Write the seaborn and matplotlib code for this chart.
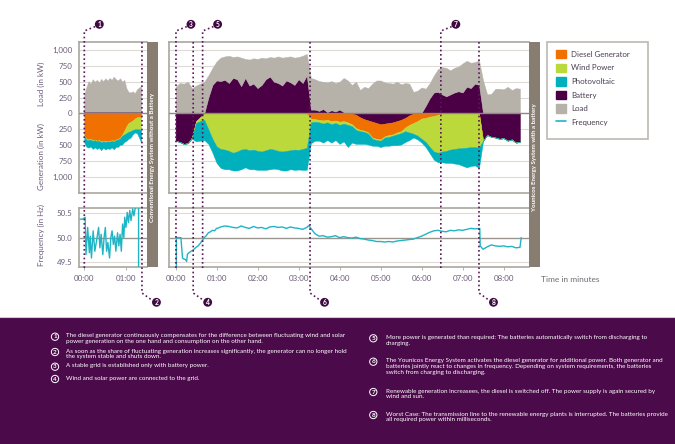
import numpy as np
import matplotlib
matplotlib.use("Agg")
import matplotlib.pyplot as plt
import seaborn as sns
from matplotlib.patches import Patch, Rectangle
from matplotlib.lines import Line2D

# ---------------- data (kW) ----------------
# left panel: conventional system, sampled every 0.05 min
minutes_left = np.round(np.arange(0, 1.36, 0.05), 2)
load_left = [300, 420, 510, 470, 540, 500, 530, 490, 545, 510, 555, 520, 560, 530,
             580, 540, 520, 555, 500, 530, 400, 340, 330, 350, 320, 380, 410, 430]
diesel_left = [350, 400, 410, 400, 420, 410, 430, 420, 440, 430, 440, 430, 435, 420,
               430, 410, 400, 380, 330, 270, 200, 150, 130, 110, 80, 60, 50, 70]
wind_left = [10, 15, 10, 10, 15, 10, 10, 10, 15, 10, 10, 10, 10, 10,
             15, 10, 10, 15, 20, 60, 110, 140, 150, 150, 170, 190, 200, 190]
pv_left = [100, 110, 120, 110, 125, 115, 120, 110, 125, 100, 120, 110, 115, 105,
           120, 110, 115, 100, 140, 120, 120, 110, 100, 70, 50, 60, 130, 200]
battery_left = [0] * 28

# right panel: Younicos system, sampled every 0.1 min (battery > 0 = charging)
minutes_right = np.round(np.arange(0, 8.45, 0.1), 2)
load_right = [420, 480, 470, 500, 400, 440, 470, 500, 350, 270,
              300, 370, 370, 430, 330, 360, 450, 300, 410, 400,
              460, 430, 330, 310, 380, 420, 440, 370, 410, 430,
              350, 430, 340, 500, 480, 470, 430, 470, 460, 450,
              440, 540, 520, 430, 500, 370, 420, 400, 470, 520,
              520, 490, 480, 470, 500, 460, 480, 470, 340, 340,
              400, 270, 240, 270, 360, 430, 450, 380, 390, 390,
              460, 410, 400, 340, 390, 520, 300, 310, 390, 390,
              380, 420, 370, 400, 390]
battery_right = [-430, -450, -480, -470, -380, -120, -60, 0, 250, 450,
                 520, 510, 530, 480, 560, 540, 430, 560, 440, 470,
                 400, 450, 540, 580, 500, 480, 440, 520, 490, 450,
                 540, 480, 600, 60, 60, 40, 70, 20, 50, 30,
                 60, 20, 0, 20, -20, -60, -90, -110, -130, -150,
                 -170, -160, -150, -140, -120, -100, -70, -30, 0, 20,
                 10, 120, 240, 330, 340, 300, 270, 300, 330, 350,
                 330, 420, 400, 470, 450, -430, -340, -370, -380, -400,
                 -390, -430, -410, -460, -450]
diesel_right = [0, 0, 0, 0, 0, 0, 0, 0, 0, 0,
                0, 0, 0, 0, 0, 0, 0, 0, 0, 0,
                0, 0, 0, 0, 0, 0, 0, 0, 0, 0,
                0, 0, 0, 80, 90, 100, 110, 100, 120, 110,
                130, 120, 140, 170, 210, 200, 180, 190, 250, 250,
                240, 200, 190, 190, 180, 180, 150, 150, 150, 120,
                80, 70, 50, 40, 20, 0, 0, 0, 0, 0,
                0, 0, 0, 0, 0, 0, 0, 0, 0, 0,
                0, 0, 0, 0, 0]
wind_right = [0, 0, 0, 0, 0, 30, 60, 100, 250, 400,
              520, 560, 570, 590, 620, 600, 570, 560, 580, 570,
              590, 600, 580, 560, 570, 590, 600, 590, 580, 570,
              575, 560, 540, 60, 40, 40, 50, 40, 50, 40,
              50, 40, 40, 30, 30, 20, 20, 20, 20, 20,
              20, 20, 30, 20, 30, 30, 60, 120, 170, 230,
              320, 380, 480, 560, 600, 600, 590, 570, 560, 550,
              545, 540, 530, 530, 540, 0, 0, 0, 0, 0,
              0, 0, 0, 0, 0]
pv_right = [0, 0, 0, 0, 20, 290, 310, 320, 230, 220,
            260, 300, 310, 290, 280, 300, 310, 290, 300, 310,
            300, 290, 310, 320, 300, 290, 300, 310, 300, 320,
            310, 330, 350, 330, 300, 290, 300, 280, 290, 270,
            300, 280, 350, 260, 220, 200, 190, 170, 110, 90,
            100, 130, 140, 150, 170, 180, 170, 120, 60, 60,
            60, 80, 100, 130, 150, 170, 190, 210, 230, 250,
            280, 310, 300, 290, 320, 0, 0, 0, 0, 0,
            0, 0, 0, 0, 0]

# frequency (Hz)
freq_left_min = [-0.1, -0.04, 0.02, 0.04, 0.08, 0.12, 0.14, 0.17, 0.21, 0.25, 0.29,
                 0.34, 0.37, 0.4, 0.44, 0.47, 0.5, 0.53, 0.56, 0.6, 0.63, 0.66,
                 0.69, 0.72, 0.75, 0.79, 0.82, 0.85, 0.88, 0.91, 0.94, 0.96, 0.99,
                 1.02, 1.05, 1.08, 1.11, 1.15, 1.18, 1.21, 1.29, 1.29]
freq_left_hz = [50.38, 50.38, 50.42, 49.65, 50.21, 49.69, 50.03, 49.58, 50.14, 49.72, 49.93,
                50.21, 49.79, 50.07, 49.65, 50.0, 50.21, 49.72, 49.9, 49.58, 50.0, 50.14,
                49.86, 50.03, 49.72, 50.1, 49.83, 50.07, 49.72, 50.28, 50.0, 50.42, 50.21,
                50.52, 50.31, 50.56, 50.35, 50.59, 50.45, 50.61, 50.65, 49.2]
freq_right_min = [0.02, 0.02, 0.13, 0.17, 0.2, 0.24, 0.27, 0.29, 0.33, 0.38, 0.42, 0.46,
                  0.5, 0.55, 0.6, 0.65, 0.7, 0.75, 0.8, 0.85, 0.9, 0.95, 1.0, 1.05,
                  1.1, 1.2, 1.3, 1.4, 1.5, 1.6, 1.7, 1.8, 1.9, 2.0, 2.1, 2.2,
                  2.3, 2.4, 2.5, 2.6, 2.7, 2.8, 2.9, 3.0, 3.1, 3.2, 3.25, 3.3,
                  3.4, 3.5, 3.6, 3.7, 3.8, 3.9, 4.0, 4.1, 4.2, 4.3, 4.4, 4.5,
                  4.6, 4.7, 4.8, 4.9, 5.0, 5.1, 5.2, 5.3, 5.4, 5.5, 5.6, 5.7,
                  5.8, 5.9, 6.0, 6.1, 6.2, 6.3, 6.4, 6.5, 6.6, 6.7, 6.8, 6.9,
                  7.0, 7.1, 7.2, 7.3, 7.42, 7.43, 7.5, 7.6, 7.7, 7.8, 7.9, 8.0,
                  8.1, 8.2, 8.3, 8.4, 8.43]
freq_right_hz = [49.2, 50.0, 50.0, 49.58, 49.56, 49.55, 49.51, 49.66, 49.69, 49.72, 49.74, 49.77,
                 49.8, 49.83, 49.88, 49.94, 50.0, 50.04, 50.1, 50.12, 50.15, 50.14, 50.19, 50.2,
                 50.22, 50.24, 50.23, 50.21, 50.2, 50.24, 50.21, 50.19, 50.23, 50.2, 50.21, 50.18,
                 50.22, 50.23, 50.21, 50.22, 50.19, 50.22, 50.2, 50.19, 50.17, 50.21, 50.25, 50.19,
                 50.08, 50.03, 50.04, 50.01, 50.02, 50.04, 50.0, 50.02, 50.0, 49.99, 50.01, 49.98,
                 49.97, 49.95, 49.94, 49.92, 49.92, 49.91, 49.92, 49.91, 49.93, 49.94, 49.95, 49.96,
                 49.97, 50.0, 50.03, 50.07, 50.11, 50.14, 50.15, 50.13, 50.12, 50.15, 50.14, 50.16,
                 50.15, 50.17, 50.19, 50.18, 50.19, 49.83, 49.76, 49.81, 49.85, 49.83, 49.82, 49.83,
                 49.81, 49.82, 49.79, 49.8, 50.0]

# event markers (minutes) and their numbers
events_left = [(0.0, 1, "top"), (1.37, 2, "bottom")]
events_right = [(0.01, 3, "top"), (0.43, 4, "bottom"), (0.66, 5, "top"),
                (3.28, 6, "bottom"), (6.47, 7, "top"), (7.40, 8, "bottom")]

power_ticks = [-1000, -750, -500, -250, 0, 250, 500, 750, 1000]
power_labels = ["1,000", "750", "500", "250", "0", "250", "500", "750", "1,000"]
freq_ticks = [49.5, 50.0, 50.5]
freq_labels = ["49.5", "50.0", "50.5"]
time_labels_left = ["00:00", "01:00"]
time_labels_right = ["00:00", "01:00", "02:00", "03:00", "04:00", "05:00", "06:00", "07:00", "08:00"]

notes_left = [
    (1, "The diesel generator continuously compensates for the difference between fluctuating wind and solar\n"
        "power generation on the one hand and consumption on the other hand."),
    (2, "As soon as the share of fluctuating generation increases significantly, the generator can no longer hold\n"
        "the system stable and shuts down."),
    (3, "A stable grid is established only with battery power."),
    (4, "Wind and solar power are connected to the grid."),
]
notes_right = [
    (5, "More power is generated than required: The batteries automatically switch from discharging to\n"
        "charging."),
    (6, "The Younicos Energy System activates the diesel generator for additional power. Both generator and\n"
        "batteries jointly react to changes in frequency. Depending on system requirements, the batteries\n"
        "switch from charging to discharging."),
    (7, "Renewable generation increasees, the diesel is switched off. The power supply is again secured by\n"
        "wind and sun."),
    (8, "Worst Case: The transmission line to the renewable energy plants is interrupted. The batteries provide\n"
        "all required power within milliseconds."),
]

# ---------------- style ----------------
C_DIESEL = "#f07000"
C_WIND = "#bcd93c"
C_PV = "#00b1bd"
C_BAT = "#4b0045"
C_LOAD = "#b6b2aa"
C_FREQ = "#1fb5c5"
C_EVENT = "#5a1858"
C_FRAME = "#aaa59e"
C_GRID = "#dedbd7"
C_BAR = "#877e71"
C_TEXT = "#6b5c79"
C_BAND = "#4b0a4a"

sns.set_theme(style="white")
plt.rcParams["font.family"] = ["Lato", "DejaVu Sans"]

W, H = 675, 444
fig = plt.figure(figsize=(6.75, 4.44), dpi=100)
fig.patch.set_facecolor("white")


def fx(px):
    return px / W


def fy(py):
    return 1 - py / H


def box(x0, y0, x1, y1):
    return [fx(x0), fy(y1), fx(x1) - fx(x0), fy(y0) - fy(y1)]


ax_pl = fig.add_axes(box(79, 42, 147, 193))
ax_pr = fig.add_axes(box(169, 42, 529, 193))
ax_fl = fig.add_axes(box(79, 208, 147, 267))
ax_fr = fig.add_axes(box(169, 208, 529, 267))


def draw_power(ax, t, load, battery, diesel, wind, pv):
    bat = np.asarray(battery, float)
    charge = np.clip(bat, 0, None)
    n1 = -np.clip(-bat, 0, None)
    n2 = n1 - np.asarray(diesel, float)
    n3 = n2 - np.asarray(wind, float)
    n4 = n3 - np.asarray(pv, float)
    top = charge + np.asarray(load, float)
    kw = dict(lw=0.3, zorder=2)
    ax.fill_between(t, 0, charge, color=C_BAT, **kw)
    ax.fill_between(t, charge, top, color=C_LOAD, **kw)
    ax.fill_between(t, 0, n1, color=C_BAT, **kw)
    ax.fill_between(t, n1, n2, color=C_DIESEL, **kw)
    ax.fill_between(t, n2, n3, color=C_WIND, **kw)
    ax.fill_between(t, n3, n4, color=C_PV, **kw)
    for y in power_ticks:
        if y != 0:
            ax.axhline(y, color=C_GRID, lw=0.8, zorder=0)
    ax.axhline(0, color="#8d8881", lw=1.0, zorder=3)
    ax.set_ylim(-1255, 1127)
    ax.set_xticks([])


draw_power(ax_pl, minutes_left, load_left, battery_left, diesel_left, wind_left, pv_left)
draw_power(ax_pr, minutes_right, load_right, battery_right, diesel_right, wind_right, pv_right)
ax_pl.set_xlim(-0.126, 1.49)
ax_pr.set_xlim(-0.16, 8.62)

for ax, tm, hz in [(ax_fl, freq_left_min, freq_left_hz), (ax_fr, freq_right_min, freq_right_hz)]:
    sns.lineplot(x=tm, y=hz, ax=ax, color=C_FREQ, lw=1.0, estimator=None, sort=False, zorder=3)
    for y in freq_ticks:
        ax.axhline(y, color="#9a968f" if y == 50.0 else C_GRID, lw=1.0 if y == 50.0 else 0.8, zorder=0)
    ax.set_ylim(49.395, 50.61)
ax_fl.set_xlim(-0.126, 1.49)
ax_fr.set_xlim(-0.16, 8.62)

ax_fl.set_xticks(range(len(time_labels_left)))
ax_fl.set_xticklabels(time_labels_left)
ax_fr.set_xticks(range(len(time_labels_right)))
ax_fr.set_xticklabels(time_labels_right)

ax_pl.set_yticks(power_ticks)
ax_pl.set_yticklabels(power_labels)
ax_pr.set_yticks([])
ax_fl.set_yticks(freq_ticks)
ax_fl.set_yticklabels(freq_labels)
ax_fr.set_yticks([])

for ax in [ax_pl, ax_pr, ax_fl, ax_fr]:
    ax.set_facecolor("white")
    for side in ["left", "top", "bottom"]:
        ax.spines[side].set_color(C_FRAME)
        ax.spines[side].set_linewidth(1.2)
    ax.spines["right"].set_visible(False)
    ax.tick_params(axis="y", length=0, pad=5, labelsize=5.7, labelcolor=C_TEXT)
    ax.tick_params(axis="x", length=2, width=0.6, color=C_FRAME, pad=4,
                   labelsize=5.7, labelcolor=C_TEXT, direction="out", bottom=True)
    ax.set_xlabel("")
    ax.set_ylabel("")

# axis titles
fig.text(fx(41), fy(84), "Load (in kW)", rotation=90, ha="center", va="center",
         fontsize=5.8, color=C_TEXT)
fig.text(fx(41), fy(156), "Generation (in kW)", rotation=90, ha="center", va="center",
         fontsize=5.8, color=C_TEXT)
fig.text(fx(41), fy(235), "Frequency (in Hz)", rotation=90, ha="center", va="center",
         fontsize=5.8, color=C_TEXT)
fig.text(fx(541), fy(279), "Time in minutes", ha="left", va="center", fontsize=6, color="#6f6a72")

# grey system bars
for x0, label in [(147, "Conventional Energy System without a Battery"),
                  (529, "Younicos Energy System with a battery")]:
    fig.add_artist(Rectangle((fx(x0), fy(267)), fx(11), 225 / H, transform=fig.transFigure,
                             facecolor=C_BAR, edgecolor="none", zorder=5))
    fig.text(fx(x0 + 5.7), fy(157), label, rotation=90, ha="center", va="center",
             fontsize=4.4, color="white", fontweight="bold", zorder=6)

# legend
fig.add_artist(Rectangle((fx(547), fy(139)), fx(101), 97 / H, transform=fig.transFigure,
                         facecolor="white", edgecolor="#bcb8b1", lw=1.2, zorder=1))
handles = [Patch(color=C_DIESEL), Patch(color=C_WIND), Patch(color=C_PV),
           Patch(color=C_BAT), Patch(color=C_LOAD), Line2D([], [], color=C_FREQ, lw=1.2)]
labels = ["Diesel Generator", "Wind Power", "Photovoltaic", "Battery", "Load", "Frequency"]
leg = fig.legend(handles, labels, loc="upper left", bbox_to_anchor=(fx(556), fy(50)),
                 frameon=False, fontsize=5.7, handlelength=1.25, handleheight=1.25,
                 labelspacing=0.66, handletextpad=0.7, borderpad=0, borderaxespad=0)
for txt in leg.get_texts():
    txt.set_color("#4a3f52")
leg.set_zorder(2)


# event markers
def event_px(ax, t):
    return fig.transFigure.inverted().transform(ax.transData.transform((t, 0)))[0] * W


def marker(xc, yc, num):
    fig.text(fx(xc), fy(yc), str(num), ha="center", va="center", fontsize=4.8,
             color="white", fontweight="bold", zorder=12,
             bbox=dict(boxstyle="circle,pad=0.14", fc="#3e0a40", ec="none"))


for ax, events in [(ax_pl, events_left), (ax_pr, events_right)]:
    for t, num, pos in events:
        px = event_px(ax, t)
        if pos == "top":
            xs, ys = [px, px, px + 11], [268, 31, 26.5]
            marker(px + 15, 24.3, num)
        else:
            xs, ys = [px, px, px + 10.5], [42, 293, 300.5]
            marker(px + 14.5, 302.3, num)
        fig.add_artist(Line2D([fx(v) for v in xs], [fy(v) for v in ys], transform=fig.transFigure,
                              color=C_EVENT, lw=1.2, ls=(0, (1, 1.6)), zorder=10))

# bottom notes band
fig.add_artist(Rectangle((0, 0), 1, fy(318), transform=fig.transFigure,
                         facecolor=C_BAND, edgecolor="none", zorder=1))
fig.add_artist(Line2D([0, 1], [fy(316.5), fy(316.5)], transform=fig.transFigure,
                      color="#d0ccd0", lw=0.8, zorder=1))


def note(xc, xt, yc, num, text):
    fig.text(fx(xc), fy(yc), str(num), ha="center", va="center", fontsize=4.6,
             color="white", fontweight="bold", zorder=3,
             bbox=dict(boxstyle="circle,pad=0.18", fc="none", ec="white", lw=0.7))
    fig.text(fx(xt), fy(yc - 3.4), text, ha="left", va="top", fontsize=4.5,
             color="white", linespacing=1.15, zorder=3)


for (num, text), yc in zip(notes_left, [336.7, 352, 366.7, 379]):
    note(55, 66.5, yc, num, text)
for (num, text), yc in zip(notes_right, [338.3, 361.7, 392, 415]):
    note(373.3, 386, yc, num, text)

fig.savefig("out.png", dpi=100)
plt.close(fig)
